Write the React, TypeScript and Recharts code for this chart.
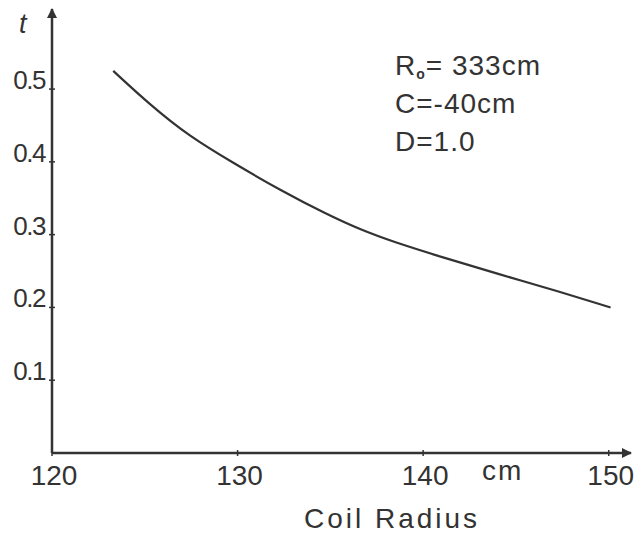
import { LineChart, Line, XAxis, YAxis } from 'recharts'

const coilRadius = [123.3, 125.3, 127.4, 129.8, 132.3, 134.8, 136.6, 138.4, 140.9, 143.9, 147.5, 150.1]
const tValues = [0.525, 0.478, 0.435, 0.398, 0.361, 0.328, 0.307, 0.29, 0.27, 0.247, 0.2205, 0.2]
const xTicks = [120, 130, 140, 150]
const yTicks = [0.1, 0.2, 0.3, 0.4, 0.5]

const data = coilRadius.map((r, i) => ({ r, t: tValues[i] }))

const ink = '#333'
const font = "'Liberation Sans', Arial, sans-serif"

const YTick = (props: any) => {
  const { x, y, payload } = props
  return (
    <g>
      <line x1={x - 3} x2={x + 3} y1={y} y2={y} stroke={ink} strokeWidth={1.5} />
      <text x={x - 7} y={y} textAnchor="end" fontSize={26} fontFamily={font} fill={ink} letterSpacing={-1.5}>
        {payload.value.toFixed(1)}
      </text>
    </g>
  )
}

const XTick = (props: any) => {
  const { x, y, payload } = props
  return (
    <g>
      <line x1={x} x2={x} y1={y - 3} y2={y + 3} stroke={ink} strokeWidth={1.5} />
      <text x={x + 2} y={y + 32} textAnchor="middle" fontSize={28} fontFamily={font} fill={ink}>
        {payload.value}
      </text>
    </g>
  )
}

export default function App() {
  return (
    <div style={{ position: 'absolute', left: 0, top: 0, width: 635, height: 536, background: '#fff' }}>
      <LineChart width={635} height={536} data={data} margin={{ top: 9, right: 4, left: 0, bottom: 0 }}>
        <defs>
          <marker
            id="arrow"
            viewBox="0 0 10 10"
            refX="9"
            refY="5"
            markerWidth="17"
            markerHeight="10"
            markerUnits="userSpaceOnUse"
            orient="auto-start-reverse"
          >
            <path d="M0,0 L10,5 L0,10 z" fill={ink} />
          </marker>
        </defs>
        <XAxis
          type="number"
          dataKey="r"
          domain={[120, 151.2]}
          ticks={xTicks}
          height={83}
          tickSize={0}
          tickMargin={0}
          tickLine={false}
          axisLine={{ stroke: ink, strokeWidth: 2.5, markerEnd: 'url(#arrow)' }}
          tick={<XTick />}
        />
        <YAxis
          type="number"
          domain={[0, 0.61]}
          ticks={yTicks}
          width={52}
          tickSize={0}
          tickMargin={0}
          tickLine={false}
          axisLine={{ stroke: ink, strokeWidth: 2.5, markerStart: 'url(#arrow)' }}
          tick={<YTick />}
        />
        <Line
          type="basis"
          dataKey="t"
          stroke={ink}
          strokeWidth={2.2}
          dot={false}
          isAnimationActive={false}
        />
        <text x={19} y={33} fontSize={27} fontStyle="italic" fontFamily={font} fill={ink}>
          t
        </text>
        <text x={395} y={75} fontSize={28} fontFamily={font} fill={ink} letterSpacing={1}>
          R<tspan fontSize={14} fontWeight="bold" dy={4}>o</tspan>
          <tspan dy={-4}>= 333cm</tspan>
        </text>
        <text x={395} y={113} fontSize={28} fontFamily={font} fill={ink} letterSpacing={1}>
          C=-40cm
        </text>
        <text x={395} y={151} fontSize={28} fontFamily={font} fill={ink} letterSpacing={1}>
          D=1.0
        </text>
        <text x={482} y={480} fontSize={28} fontFamily={font} fill={ink} letterSpacing={2}>
          cm
        </text>
        <text x={392} y={528} textAnchor="middle" fontSize={28} fontFamily={font} fill={ink} letterSpacing={3}>
          Coil Radius
        </text>
      </LineChart>
    </div>
  )
}
